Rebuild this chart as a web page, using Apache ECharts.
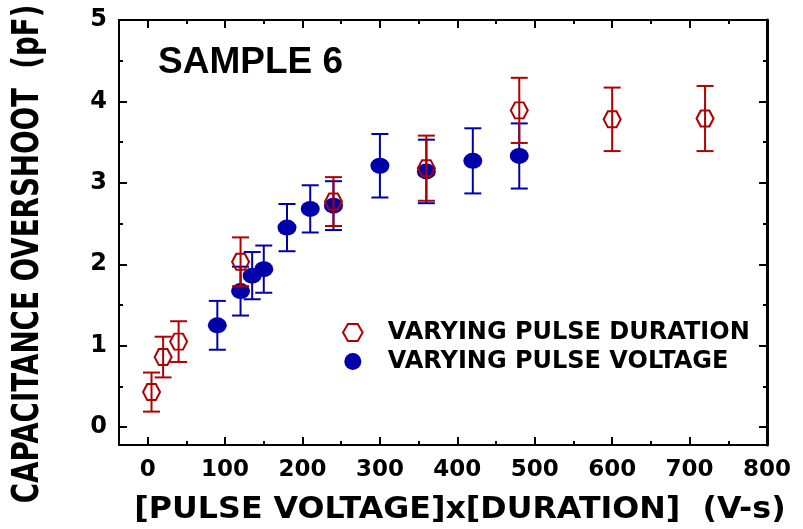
<!DOCTYPE html>
<html>
<head>
<meta charset="utf-8">
<script src="https://cdn.jsdelivr.net/npm/echarts@6/dist/echarts.min.js"></script>
<style>
html,body{margin:0;padding:0;background:#fff;}
#chart{width:803px;height:529px;}
</style>
</head>
<body>
<div id="chart"></div>
<script>
// Data
const durationX   = [5, 20, 40, 120, 240, 360, 480, 600, 720];
const durationY   = [0.43, 0.86, 1.05, 2.03, 2.77, 3.18, 3.89, 3.78, 3.79];
const durationErr = [0.24, 0.25, 0.25, 0.30, 0.30, 0.40, 0.40, 0.39, 0.40];

const voltageX   = [90, 120, 135, 150, 180, 210, 240, 300, 360, 420, 480];
const voltageY   = [1.25, 1.67, 1.86, 1.94, 2.45, 2.68, 2.72, 3.21, 3.14, 3.27, 3.33];
const voltageErr = [0.30, 0.30, 0.29, 0.29, 0.29, 0.29, 0.30, 0.39, 0.39, 0.40, 0.40];

const xTicks = [0, 100, 200, 300, 400, 500, 600, 700, 800];
const xMinorTicks = [50, 150, 250, 350, 450, 550, 650, 750];
const yTicks = [0, 1, 2, 3, 4, 5];
const yMinorTicks = [0.5, 1.5, 2.5, 3.5, 4.5];

const seriesNames = ['VARYING PULSE DURATION', 'VARYING PULSE VOLTAGE'];
const sampleLabel = 'SAMPLE 6';
const xTitle = '[PULSE VOLTAGE]x[DURATION]  (V-s)';
const yTitle = 'CAPACITANCE OVERSHOOT  (pF)';

const RED = '#b00000';
const BLUE = '#0000aa';
const HEX = 'path://M-1,0 L-0.5,-0.866 L0.5,-0.866 L1,0 L0.5,0.866 L-0.5,0.866 Z';
const FONT = 'DejaVu Sans';

const chart = echarts.init(document.getElementById('chart'), null, {renderer: 'canvas'});

function toPts(xs, ys, es) { return xs.map((x, i) => [x, ys[i], es[i]]); }

function errBar(color) {
  return function (params, api) {
    const x = api.value(0), y = api.value(1), e = api.value(2);
    const top = api.coord([x, y + e]);
    const bot = api.coord([x, y - e]);
    const hw = 8.5;
    const st = {stroke: color, lineWidth: 2};
    return {type: 'group', children: [
      {type: 'line', shape: {x1: top[0], y1: top[1], x2: bot[0], y2: bot[1]}, style: st},
      {type: 'line', shape: {x1: top[0] - hw, y1: top[1], x2: top[0] + hw, y2: top[1]}, style: st},
      {type: 'line', shape: {x1: bot[0] - hw, y1: bot[1], x2: bot[0] + hw, y2: bot[1]}, style: st}
    ]};
  };
}

const XMIN = -37, XMAX = 800, YMIN = -0.22, YMAX = 5;
const labelStyle = {color: '#000', fontFamily: FONT, fontWeight: 'bold', fontSize: 23};

function xAxisDef(pos, major, showLabel, showLine) {
  return {
    type: 'value', position: pos, min: XMIN, max: XMAX,
    axisLine: {show: showLine, onZero: false, lineStyle: {color: '#000', width: 2}},
    axisTick: {show: true, inside: true, length: major ? 8 : 4, customValues: major ? xTicks : xMinorTicks, lineStyle: {color: '#000', width: 2}},
    axisLabel: showLabel ? Object.assign({show: true, margin: 14, customValues: xTicks}, labelStyle) : {show: false},
    splitLine: {show: false}
  };
}
function yAxisDef(pos, major, showLabel, showLine, lw) {
  return {
    type: 'value', position: pos, min: YMIN, max: YMAX,
    axisLine: {show: showLine, onZero: false, lineStyle: {color: '#000', width: lw || 2}},
    axisTick: {show: true, inside: true, length: major ? 8 : 4, customValues: major ? yTicks : yMinorTicks, lineStyle: {color: '#000', width: 2}},
    axisLabel: showLabel ? Object.assign({show: true, margin: 12, customValues: yTicks}, labelStyle, {fontSize: 24}) : {show: false},
    splitLine: {show: false}
  };
}

const option = {
  backgroundColor: '#fff',
  animation: false,
  grid: {left: 119, right: 36, top: 20, bottom: 84},
  xAxis: [
    xAxisDef('bottom', true, true, true),
    xAxisDef('bottom', false, false, false),
    xAxisDef('top', true, false, true),
    xAxisDef('top', false, false, false)
  ],
  yAxis: [
    yAxisDef('left', true, true, true),
    yAxisDef('left', false, false, false),
    yAxisDef('right', true, false, true, 3),
    yAxisDef('right', false, false, false)
  ],
  legend: {
    orient: 'vertical', left: 337, top: 315.5,
    itemWidth: 20, itemHeight: 17, itemGap: 5,
    textStyle: {color: '#000', fontFamily: FONT, fontWeight: 'bold', fontSize: 24, lineHeight: 24, padding: [0, 0, 0, 20]},
    data: [
      {name: seriesNames[0], icon: HEX, itemStyle: {color: '#fff', borderColor: RED, borderWidth: 2}},
      {name: seriesNames[1], icon: 'circle', itemStyle: {color: BLUE, borderWidth: 0}}
    ]
  },
  graphic: [
    {type: 'text', left: 158, top: 44, style: {text: sampleLabel, fill: '#000', font: 'bold 37px "Liberation Sans"'}},
    {type: 'text', x: 460, y: 510, scaleX: 1.057, style: {text: xTitle, fill: '#000', font: 'bold 30px "DejaVu Sans"', align: 'center', verticalAlign: 'middle'}},
    {type: 'text', x: 29, y: 254, rotation: Math.PI / 2, scaleX: 1.065, scaleY: 1.4, style: {text: yTitle, fill: '#000', font: 'bold 26px "DejaVu Sans"', align: 'center', verticalAlign: 'middle'}}
  ],
  series: [
    {type: 'custom', name: seriesNames[1] + ' err', renderItem: errBar(BLUE), data: toPts(voltageX, voltageY, voltageErr), z: 2, silent: true},
    {type: 'scatter', name: seriesNames[1], data: toPts(voltageX, voltageY, voltageErr), symbol: 'circle', symbolSize: [19, 16], itemStyle: {color: BLUE, opacity: 1}, z: 3},
    {type: 'scatter', name: seriesNames[0], data: toPts(durationX, durationY, durationErr), symbol: HEX, symbolSize: [17, 16], itemStyle: {color: 'rgba(255,255,255,0)', borderColor: RED, borderWidth: 2, opacity: 1}, z: 4},
    {type: 'custom', name: seriesNames[0] + ' err', renderItem: errBar(RED), data: toPts(durationX, durationY, durationErr), z: 5, silent: true}
  ]
};
chart.setOption(option);
</script>
</body>
</html>
